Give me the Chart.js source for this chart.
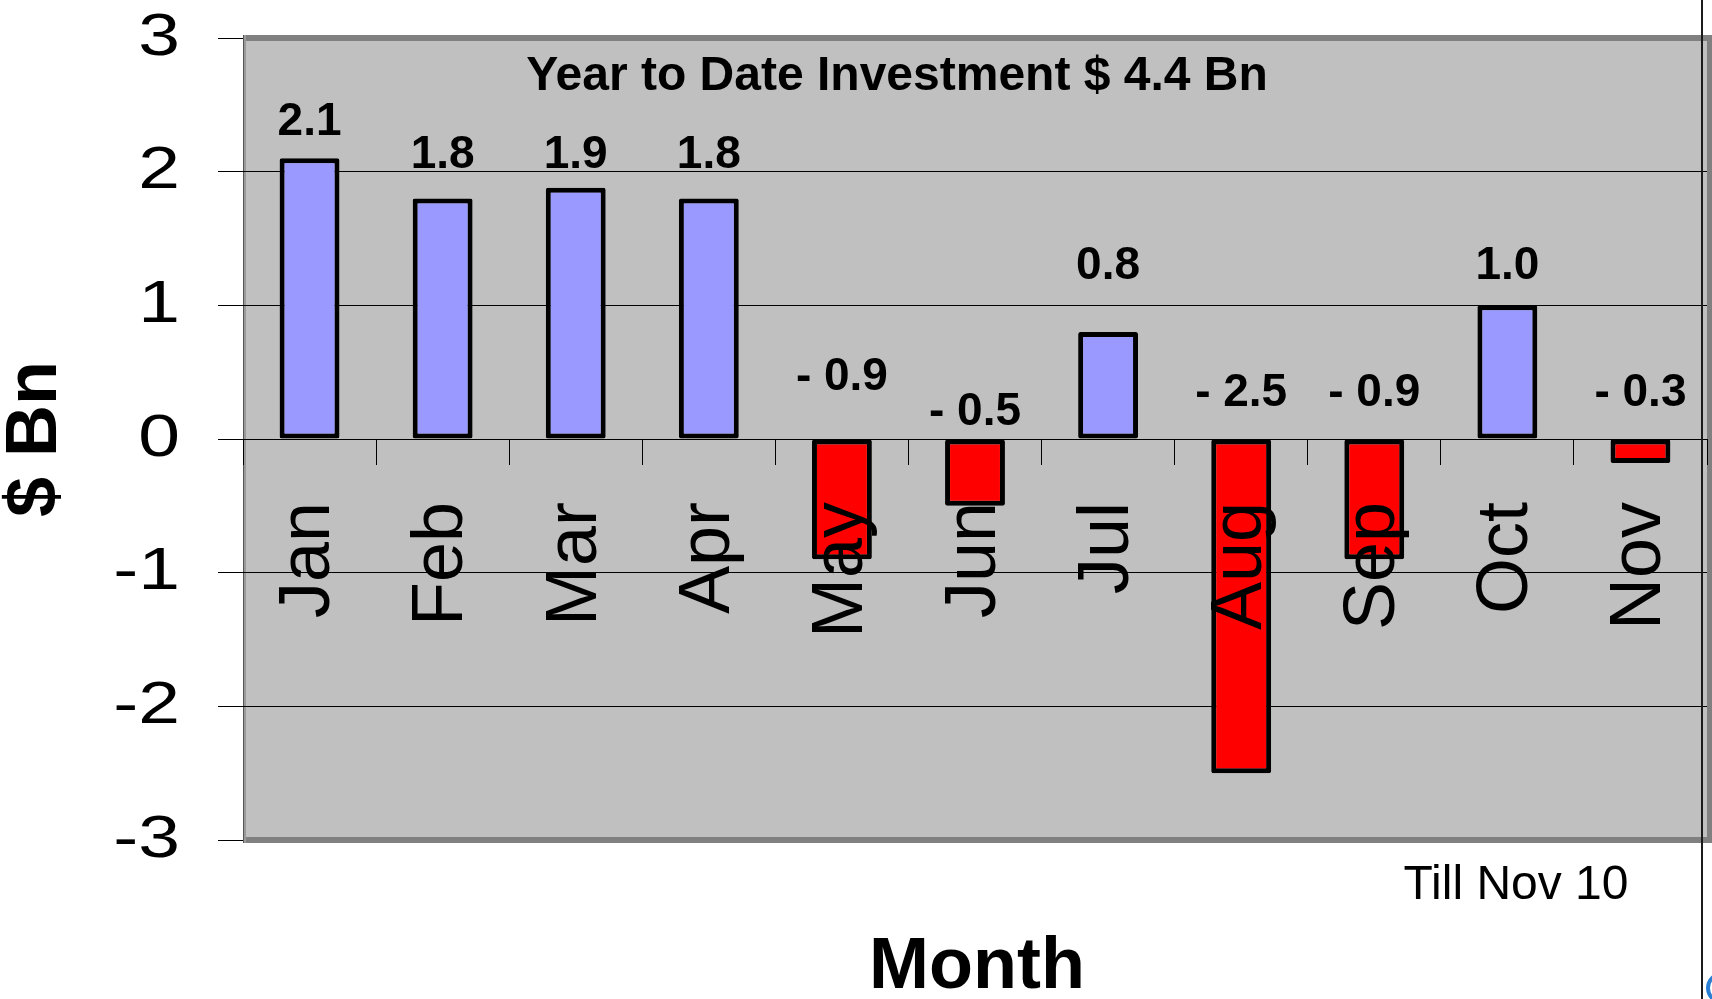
<!DOCTYPE html>
<html><head><meta charset="utf-8">
<script src="https://cdn.jsdelivr.net/npm/chart.js@4.4.1/dist/chart.umd.min.js"></script>
<style>html,body{margin:0;padding:0;background:#fff;overflow:hidden}#wrap{width:1712px;height:999px;position:relative}</style>
</head><body><div id="wrap"><canvas id="c" width="1712" height="999"></canvas></div>
<script>
// ---- data ----
const months = ['Jan','Feb','Mar','Apr','May','Jun','Jul','Aug','Sep','Oct','Nov'];
const investment = [2.1, 1.8, 1.88, 1.8, -0.9, -0.5, 0.8, -2.5, -0.9, 1.0, -0.18];
const valueLabels = ['2.1','1.8','1.9','1.8','- 0.9','- 0.5','0.8','- 2.5','- 0.9','1.0','- 0.3'];
const labelLevel = [2.37, 2.12, 2.12, 2.12, 0.46, 0.20, 1.29, 0.34, 0.34, 1.29, 0.34];
const yTicks = [-3, -2, -1, 0, 1, 2, 3];
const chartTitle = 'Year to Date Investment $ 4.4 Bn';
const xTitle = 'Month';
const yTitle = '$ Bn';
const note = 'Till Nov 10';

// ---- style ----
const FONT = "'Liberation Sans', Arial, Helvetica, sans-serif";
const POS_COLOR = '#9999FF';
const NEG_COLOR = '#FF0000';
const Y_STRETCH = 1.25;

const framePlugin = {
  id: 'frame',
  beforeDraw(chart) {
    const ctx = chart.ctx, a = chart.chartArea;
    const W = chart.width;
    ctx.save();
    ctx.fillStyle = '#C0C0C0';
    ctx.fillRect(a.left, a.top - 3, W - a.left, a.bottom - a.top + 6);
    ctx.fillStyle = '#808080';
    ctx.fillRect(a.left, a.top - 3, W - a.left, 6);      // top band
    ctx.fillRect(a.left, a.bottom - 3, W - a.left, 6);   // bottom band
    ctx.fillRect(W - 5, a.top - 3, 5, a.bottom - a.top + 6); // right band
    ctx.fillStyle = '#9a9a9a';
    ctx.fillRect(a.left, a.top - 3, 3, a.bottom - a.top + 6); // left band
    ctx.fillStyle = '#555';
    ctx.fillRect(a.left, a.top - 3, 1, a.bottom - a.top + 6);
    ctx.restore();
    // widen y tick labels like the original
    const s = chart.scales.y;
    if (s && !s._stretched) {
      const orig = s.drawLabels.bind(s);
      s.drawLabels = function (area) {
        const c = s.ctx;
        const ax = s.right - s.options.grid.tickLength - s.options.ticks.padding;
        c.save();
        c.translate(ax, 0); c.scale(Y_STRETCH, 1); c.translate(-ax, 0);
        orig(area);
        c.restore();
      };
      s._stretched = true;
    }
  },
  afterDraw(chart) {
    const ctx = chart.ctx;
    const ys = chart.scales.y;
    const meta = chart.getDatasetMeta(0);
    ctx.save();
    ctx.fillStyle = '#000';
    // chart title inside plot
    ctx.font = 'bold 48px ' + FONT;
    ctx.textAlign = 'center';
    ctx.textBaseline = 'alphabetic';
    ctx.fillText(chartTitle, 897, 90);
    // value labels
    ctx.font = 'bold 46px ' + FONT;
    ctx.textBaseline = 'middle';
    meta.data.forEach((bar, i) => {
      ctx.fillText(valueLabels[i], bar.x, ys.getPixelForValue(labelLevel[i]));
    });
    // x title and note
    ctx.textBaseline = 'alphabetic';
    ctx.font = 'bold 72px ' + FONT;
    ctx.fillText(xTitle, 977, 988);
    ctx.font = '48px ' + FONT;
    ctx.fillText(note, 1516, 899);
    // right black line
    ctx.fillStyle = '#1a1a1a';
    ctx.fillRect(1701, 0, 2, chart.height);
    // small blue mark bottom right
    ctx.strokeStyle = '#2a7fd4';
    ctx.lineWidth = 4;
    ctx.beginPath();
    ctx.arc(1722, 988, 14, 0, Math.PI * 2);
    ctx.stroke();
    ctx.restore();
  }
};

new Chart(document.getElementById('c'), {
  type: 'bar',
  data: {
    labels: months,
    datasets: [{
      data: investment,
      backgroundColor: investment.map(v => v >= 0 ? POS_COLOR : NEG_COLOR),
      borderColor: '#000',
      borderWidth: 5,
      borderSkipped: false,
      borderRadius: 2,
      barPercentage: 0.45,
      categoryPercentage: 1.0
    }]
  },
  options: {
    responsive: false,
    devicePixelRatio: 1,
    animation: false,
    layout: { padding: { left: 0, top: 38, right: 5, bottom: 159 } },
    plugins: { legend: { display: false }, tooltip: { enabled: false }, title: { display: false } },
    scales: {
      y: {
        min: -3, max: 3,
        afterBuildTicks(scale) { scale.ticks = yTicks.map(v => ({ value: v })); },
        afterFit(scale) { scale.width = 243; scale.paddingTop = 0; scale.paddingBottom = 0; },
        ticks: { color: '#000', padding: 38, font: { family: FONT, size: 60, lineHeight: 1 } },
        grid: {
          color: c => (c.tick && Math.abs(c.tick.value) === 3) ? 'rgba(0,0,0,0)' : '#000',
          tickColor: '#000',
          lineWidth: 1,
          tickLength: 25
        },
        border: { display: false },
        title: { display: true, text: yTitle, color: '#000', padding: 0,
                 font: { family: FONT, size: 72, weight: 'bold', lineHeight: 1 } }
      },
      x: {
        position: { y: 0 },
        offset: true,
        afterFit(scale) { scale.paddingLeft = 0; scale.paddingRight = 0; },
        ticks: { z: 1, color: '#000', autoSkip: false, minRotation: 90, maxRotation: 90, padding: 38,
                 font: { family: FONT, size: 72 } },
        grid: { drawOnChartArea: false, drawTicks: true, tickLength: 25, color: '#000', offset: true },
        border: { display: true, color: '#000', width: 1 }
      }
    }
  },
  plugins: [framePlugin]
});
</script>
</body></html>
